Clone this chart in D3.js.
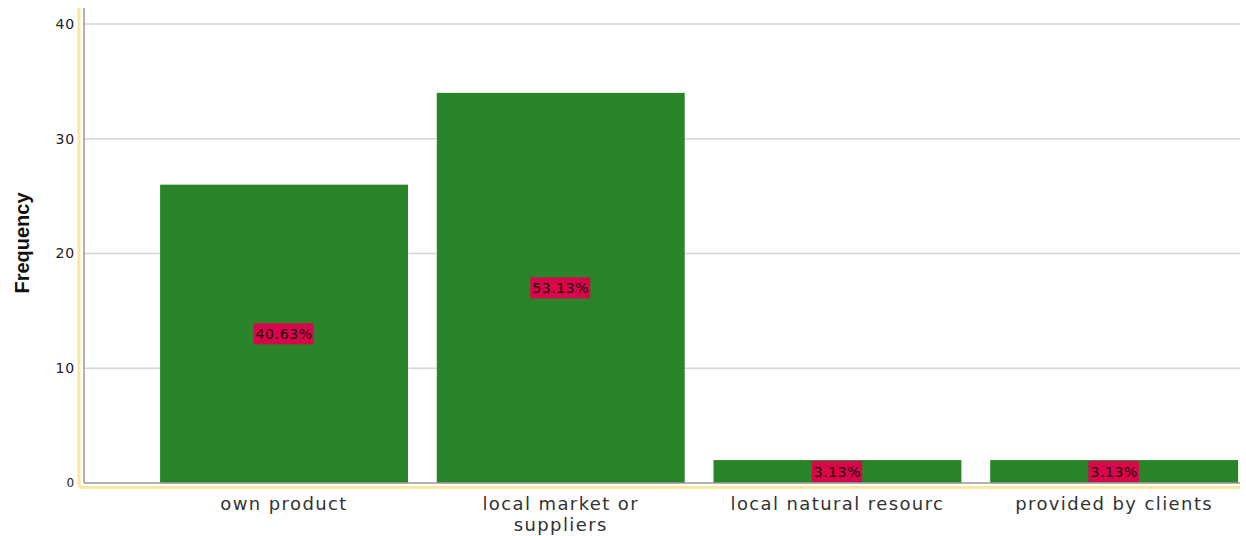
<!DOCTYPE html>
<html><head><meta charset="utf-8">
<script src="https://cdn.jsdelivr.net/npm/d3@7"></script>
<style>body{margin:0;background:#fff}svg{display:block}</style>
</head><body>
<svg id="c" width="1246" height="536"></svg>
<script>
const categories = ["own product", "local market or suppliers", "local natural resourc", "provided by clients"];
const categoryLines = [["own product"], ["local market or", "suppliers"], ["local natural resourc"], ["provided by clients"]];
const frequencies = [26, 34, 2, 2];
const percentLabels = ["40.63%", "53.13%", "3.13%", "3.13%"];
const yTicks = [0, 10, 20, 30, 40];

const svg = d3.select("#c");
const x = d3.scaleBand().domain(categories).range([145.7, 1252.5]).paddingInner(0.104).paddingOuter(0.052);
const y = d3.scaleLinear().domain([0, 40]).range([483, 24]);
const plotL = 84, plotR = 1240, plotT = 8;

// grid
svg.append("g").selectAll("line").data(yTicks.filter(d => d > 0)).join("line")
  .attr("x1", plotL).attr("x2", plotR).attr("y1", d => y(d)).attr("y2", d => y(d))
  .attr("stroke", "#d4d4d4").attr("stroke-width", 1.5);

// yellow frame
svg.append("path").attr("d", `M79,${plotT} L79,483 Q79,487.5 83.5,487.5 L${plotR},487.5`)
  .attr("fill", "none").attr("stroke", "#fce7a0").attr("stroke-width", 3);

// bars
svg.append("g").selectAll("rect").data(categories).join("rect")
  .attr("x", d => x(d)).attr("width", x.bandwidth())
  .attr("y", (d, i) => y(frequencies[i])).attr("height", (d, i) => y(0) - y(frequencies[i]))
  .attr("fill", "#2a842a");

// axes lines
svg.append("line").attr("x1", plotL).attr("x2", plotL).attr("y1", plotT).attr("y2", 483)
  .attr("stroke", "#999").attr("stroke-width", 1.5);
svg.append("line").attr("x1", plotL).attr("x2", plotR).attr("y1", 483).attr("y2", 483)
  .attr("stroke", "#999").attr("stroke-width", 1.5);

// y tick labels
svg.append("g").selectAll("text").data(yTicks).join("text")
  .attr("x", 75).attr("y", d => y(d)).attr("dy", "0.35em").attr("text-anchor", "end")
  .attr("font-family", "DejaVu Sans, sans-serif").attr("font-size", d => d === 0 ? 12 : 14)
  .attr("letter-spacing", 0.8).attr("fill", "#222")
  .text(d => d);

// y title
svg.append("text").attr("transform", "translate(29,243) rotate(-90)").attr("text-anchor", "middle")
  .attr("font-family", "Liberation Sans Narrow, Liberation Sans, Arial, sans-serif")
  .attr("font-size", 20).attr("font-weight", "bold").attr("fill", "#111").text("Frequency");

// x labels
const xl = svg.append("g").selectAll("text").data(categories).join("text")
  .attr("x", d => x(d) + x.bandwidth() / 2).attr("y", 510).attr("text-anchor", "middle")
  .attr("font-family", "DejaVu Sans, sans-serif").attr("font-size", 18).attr("letter-spacing", 1.4)
  .attr("fill", "#333");
xl.each(function(d, i) {
  d3.select(this).selectAll("tspan").data(categoryLines[i]).join("tspan")
    .attr("x", x(d) + x.bandwidth() / 2).attr("dy", (t, j) => j === 0 ? 0 : 21).text(t => t);
});

// percent labels
const lg = svg.append("g").selectAll("g").data(categories).join("g")
  .attr("transform", (d, i) => `translate(${x(d) + x.bandwidth() / 2},${y(frequencies[i] / 2)})`);
lg.append("text").attr("text-anchor", "middle").attr("dy", "0.36em")
  .attr("font-family", "DejaVu Sans, sans-serif").attr("font-size", 14).attr("letter-spacing", 0.6)
  .attr("fill", "#1a0508")
  .text((d, i) => percentLabels[i]);
lg.each(function() {
  const g = d3.select(this), b = g.select("text").node().getBBox();
  g.insert("rect", "text").attr("x", b.x - 2).attr("y", -10.5).attr("width", b.width + 3).attr("height", 21)
    .attr("fill", "#d8064a");
});
</script>
</body></html>
